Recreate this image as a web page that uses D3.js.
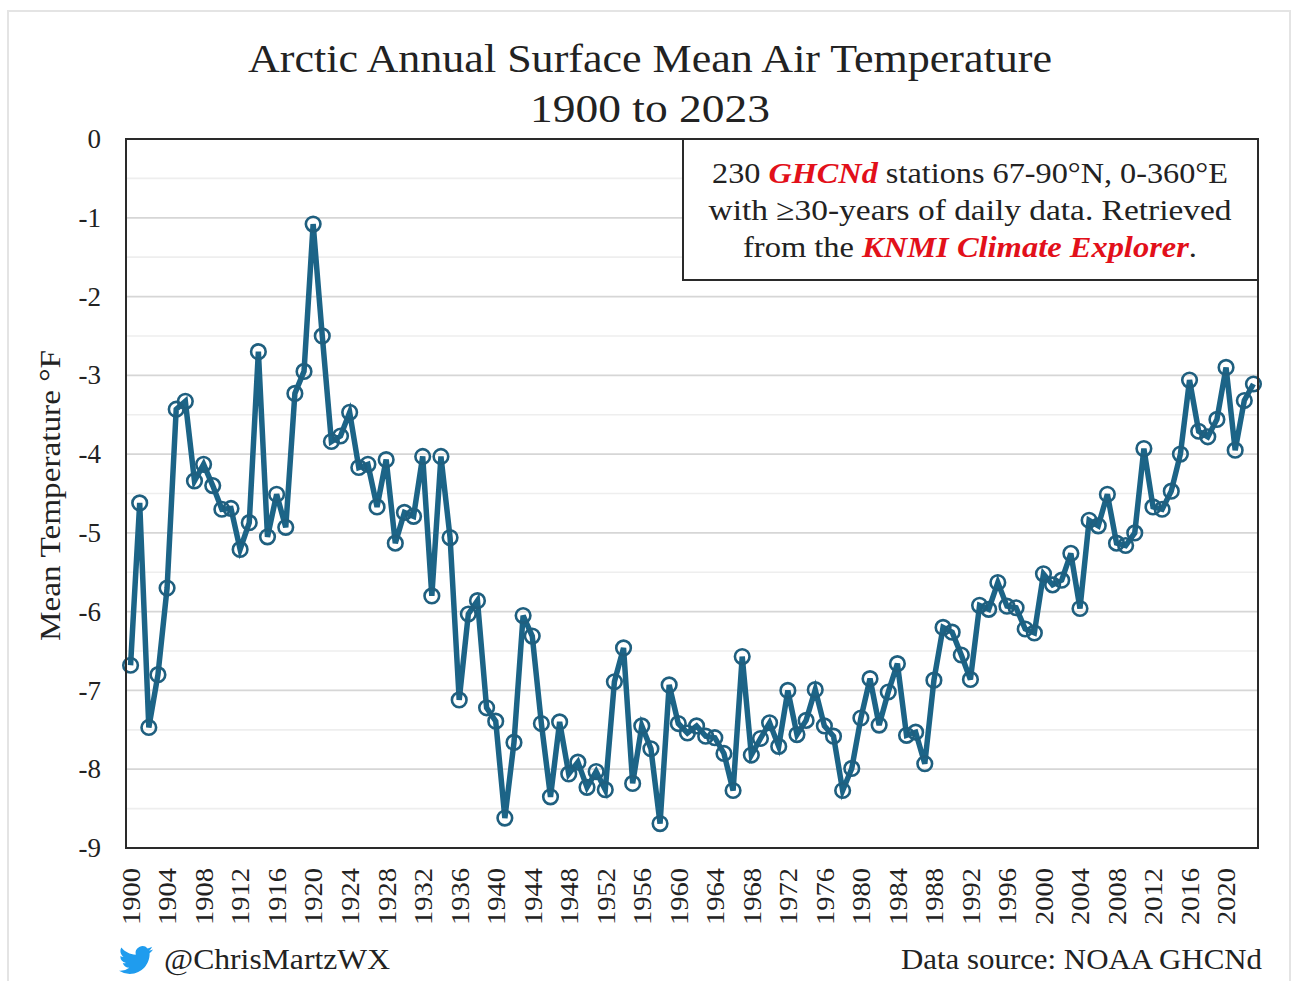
<!DOCTYPE html>
<html><head><meta charset="utf-8">
<script src="https://cdn.jsdelivr.net/npm/d3@7/dist/d3.min.js"></script>
<style>
html,body{margin:0;padding:0;background:#fff;overflow:hidden}
svg{display:block}
text{font-family:"Liberation Serif",serif;fill:#222}
</style></head><body>
<script>
const startYear = 1900;
const temps = [-6.68,-4.62,-7.47,-6.8,-5.7,-3.43,-3.33,-4.34,-4.13,-4.4,
-4.7,-4.69,-5.21,-4.87,-2.7,-5.05,-4.51,-4.93,-3.23,-2.95,
-1.08,-2.5,-3.84,-3.77,-3.47,-4.17,-4.13,-4.67,-4.07,-5.13,
-4.74,-4.79,-4.03,-5.8,-4.03,-5.06,-7.12,-6.03,-5.86,-7.22,
-7.39,-8.62,-7.66,-6.05,-6.31,-7.42,-8.35,-7.4,-8.06,-7.91,
-8.23,-8.03,-8.26,-6.89,-6.46,-8.18,-7.45,-7.74,-8.69,-6.93,
-7.42,-7.54,-7.45,-7.58,-7.6,-7.8,-8.27,-6.57,-7.82,-7.61,
-7.41,-7.71,-7.0,-7.56,-7.38,-6.99,-7.45,-7.58,-8.27,-7.99,
-7.35,-6.85,-7.44,-7.02,-6.66,-7.57,-7.53,-7.93,-6.87,-6.2,
-6.26,-6.55,-6.86,-5.92,-5.97,-5.63,-5.93,-5.95,-6.22,-6.27,
-5.52,-5.66,-5.6,-5.26,-5.96,-4.84,-4.91,-4.51,-5.13,-5.16,
-5.0,-3.93,-4.67,-4.7,-4.47,-4.0,-3.06,-3.71,-3.78,-3.56,
-2.9,-3.95,-3.32,-3.11];
const years = temps.map((_,i)=>startYear+i);
const yearTicks = years.filter(y=>(y-1900)%4===0);
const yTicks = [0,-1,-2,-3,-4,-5,-6,-7,-8,-9];
const yMinor = [-0.5,-1.5,-2.5,-3.5,-4.5,-5.5,-6.5,-7.5,-8.5];
const titleLines = ["Arctic Annual Surface Mean Air Temperature","1900 to 2023"];
const noteLines = [
 [["230 ",0],["GHCNd",1],[" stations 67-90°N, 0-360°E",0]],
 [["with ≥30-years of daily data. Retrieved",0]],
 [["from the ",0],["KNMI Climate Explorer",1],[".",0]]
];
const W=1291,H=981;
const L=126,R=1258,T=139,B=848;
const svg=d3.select("body").append("svg").attr("width",W).attr("height",H);
const fit=(sel,len)=>sel.attr("textLength",len).attr("lengthAdjust","spacingAndGlyphs");

svg.append("rect").attr("x",8).attr("y",11).attr("width",1282).attr("height",975)
 .attr("fill","#fff").attr("stroke","#e4e4e4").attr("stroke-width",2);

const x=d3.scalePoint().domain(years).range([L,R]).padding(0.5);
const y=d3.scaleLinear().domain([0,-9]).range([T,B]);

svg.append("g").selectAll("line").data(yMinor).join("line")
 .attr("x1",L).attr("x2",R).attr("y1",d=>y(d)).attr("y2",d=>y(d))
 .attr("stroke","#eeeeee").attr("stroke-width",1.6);
svg.append("g").selectAll("line").data(yTicks.slice(1,-1)).join("line")
 .attr("x1",L).attr("x2",R).attr("y1",d=>y(d)).attr("y2",d=>y(d))
 .attr("stroke","#d6d6d6").attr("stroke-width",1.8);

const ya=svg.append("g").attr("transform",`translate(${L},0)`)
 .call(d3.axisLeft(y).tickValues(yTicks).tickSize(0).tickPadding(25).tickFormat(d=>d===0?"0":"-"+Math.abs(d)));
ya.select(".domain").remove();
ya.selectAll("text").style("font-size","27px").attr("dy","0.32em");

const xa=svg.append("g").attr("transform",`translate(0,${B})`)
 .call(d3.axisBottom(x).tickValues(yearTicks).tickSize(0).tickFormat(d3.format("d")));
xa.select(".domain").remove();
xa.selectAll("text").attr("text-anchor","end")
 .style("font-size","26px").attr("x",0).attr("y",0)
 .attr("transform","translate(0,20) rotate(-90)").attr("dy","0.34em")
 .attr("textLength",57).attr("lengthAdjust","spacingAndGlyphs");

const line=d3.line().x((d,i)=>x(years[i])).y(d=>y(d));
svg.append("path").datum(temps).attr("d",line).attr("fill","none")
 .attr("stroke","#1c6487").attr("stroke-width",5.5).attr("stroke-linejoin","miter");
svg.append("g").selectAll("circle").data(temps).join("circle")
 .attr("cx",(d,i)=>x(years[i])).attr("cy",d=>y(d)).attr("r",7.3)
 .attr("fill","none").attr("stroke","#1f5f7f").attr("stroke-width",2.6);

svg.append("rect").attr("x",L).attr("y",T).attr("width",R-L).attr("height",B-T)
 .attr("fill","none").attr("stroke","#2a2a2a").attr("stroke-width",2);

svg.append("rect").attr("x",683).attr("y",139).attr("width",575).attr("height",141)
 .attr("fill","#fff").attr("stroke","#2a2a2a").attr("stroke-width",2);
const noteY=[183,220,257], noteLen=[516,523,454];
noteLines.forEach((runs,i)=>{
 const t=svg.append("text").attr("x",970).attr("y",noteY[i]).attr("text-anchor","middle")
  .style("font-size","30px");
 fit(t,noteLen[i]);
 runs.forEach(([s,hi])=>{
  const sp=t.append("tspan").text(s);
  if(hi) sp.style("fill","#e2101a").style("font-weight","bold").style("font-style","italic");
 });
});

titleLines.forEach((s,i)=>{
 fit(svg.append("text").attr("x",650).attr("y",[72,122][i]).attr("text-anchor","middle")
  .style("font-size","41px").text(s),[804,240][i]);
});

fit(svg.append("text").attr("transform","translate(60,495.5) rotate(-90)").attr("text-anchor","middle")
 .style("font-size","30px").text("Mean Temperature °F"),291);

svg.append("path").attr("transform","translate(119,943) scale(1.42)").attr("fill","#1f9cee")
 .attr("d","M23.953 4.57a10 10 0 01-2.825.775 4.958 4.958 0 002.163-2.723c-.951.555-2.005.959-3.127 1.184a4.92 4.92 0 00-8.384 4.482C7.69 8.095 4.067 6.13 1.64 3.162a4.822 4.822 0 00-.666 2.475c0 1.71.87 3.213 2.188 4.096a4.904 4.904 0 01-2.228-.616v.06a4.923 4.923 0 003.946 4.827 4.996 4.996 0 01-2.212.085 4.936 4.936 0 004.604 3.417 9.867 9.867 0 01-6.102 2.105c-.39 0-.779-.023-1.17-.067a13.995 13.995 0 007.557 2.209c9.053 0 13.998-7.496 13.998-13.985 0-.21 0-.42-.015-.63A9.935 9.935 0 0024 4.59z");
fit(svg.append("text").attr("x",164).attr("y",969).style("font-size","30px").text("@ChrisMartzWX"),226);
fit(svg.append("text").attr("x",1262).attr("y",969).attr("text-anchor","end").style("font-size","30px").text("Data source: NOAA GHCNd"),361);
</script>
</body></html>
